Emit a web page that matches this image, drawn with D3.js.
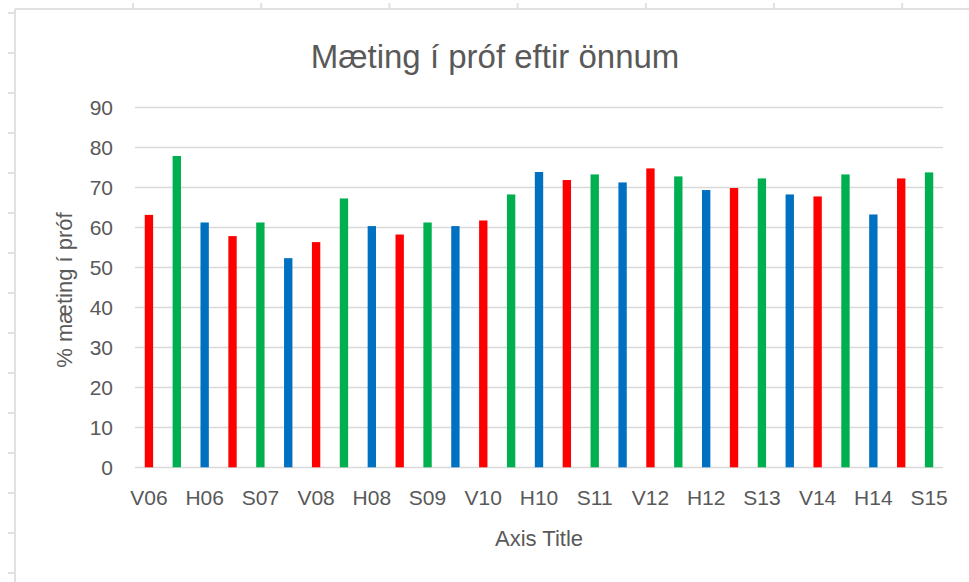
<!DOCTYPE html>
<html>
<head>
<meta charset="utf-8">
<script src="https://cdn.jsdelivr.net/npm/d3@7/dist/d3.min.js"></script>
<style>
  html, body { margin: 0; padding: 0; background: #fff; }
  svg { display: block; }
  text { font-family: "Liberation Sans", Arial, sans-serif; fill: #595959; }
</style>
</head>
<body>
<svg id="chart" width="969" height="582"></svg>
<script>
// ---- data ----
const categories = ["V06","S06","H06","V07","S07","H07","V08","S08","H08","V09","S09","H09",
  "V10","S10","H10","V11","S11","H11","V12","S12","H12","V13","S13","H13","V14","S14","H14","V15","S15"];
const values = [63.0, 77.7, 61.1, 57.7, 61.1, 52.2, 56.2, 67.1, 60.2, 58.1, 61.1, 60.2,
  61.6, 68.1, 73.7, 71.7, 73.1, 71.1, 74.6, 72.6, 69.2, 69.7, 72.1, 68.1, 67.6, 73.1, 63.1, 72.1, 73.6];
const yTicks = [0, 10, 20, 30, 40, 50, 60, 70, 80, 90];
const seasonColors = { V: "#FF0000", S: "#00B050", H: "#0070C0" };
const title = "Mæting í próf eftir önnum";
const yTitle = "% mæting í próf";
const xTitle = "Axis Title";

// ---- layout ----
const svg = d3.select("#chart");
const W = 969, H = 582;
const plot = { left: 135, right: 943, top: 106.7, bottom: 467.3 };

// spreadsheet frame behind chart
const frame = svg.append("g").attr("stroke", "#E1E1E1").attr("stroke-width", 2);
frame.append("line").attr("x1", 15).attr("x2", W).attr("y1", 9).attr("y2", 9);
frame.append("line").attr("x1", 15).attr("x2", 15).attr("y1", 9).attr("y2", H);
d3.range(133, W, 128.2).forEach(x => {
  frame.append("line").attr("x1", x).attr("x2", x).attr("y1", 3).attr("y2", 9);
});
d3.range(13, H, 40).forEach(y => {
  frame.append("line").attr("x1", 8).attr("x2", 15).attr("y1", y).attr("y2", y);
});

const x = d3.scaleBand().domain(categories).range([plot.left, plot.right]).paddingInner(0).paddingOuter(0);
const y = d3.scaleLinear().domain([0, 90]).range([plot.bottom, plot.top]);

// gridlines
svg.append("g").selectAll("line").data(yTicks).join("line")
  .attr("x1", plot.left).attr("x2", plot.right)
  .attr("y1", d => Math.round(y(d)) + 0.5).attr("y2", d => Math.round(y(d)) + 0.5)
  .attr("stroke", "#D9D9D9").attr("stroke-width", 1.5);

// y axis labels
const yAxis = d3.axisLeft(y).tickValues(yTicks).tickSize(0).tickPadding(0);
const ya = svg.append("g").attr("transform", `translate(${plot.left - 22},0)`).call(yAxis);
ya.select(".domain").remove();
ya.selectAll("text").attr("font-size", 21).attr("fill", "#595959")
  .style("font-family", "'Liberation Sans', Arial, sans-serif").attr("dy", "0.35em");

// bars
const barW = x.bandwidth() * 0.3;
svg.append("g").selectAll("rect").data(categories).join("rect")
  .attr("x", (d) => x(d) + x.bandwidth() / 2 - barW / 2)
  .attr("width", barW)
  .attr("y", (d, i) => y(values[i]))
  .attr("height", (d, i) => y(0) - y(values[i]))
  .attr("fill", d => seasonColors[d[0]]);

// x axis labels (every other category)
const xAxis = d3.axisBottom(x).tickValues(categories.filter((d, i) => i % 2 === 0)).tickSize(0).tickPadding(0);
const xa = svg.append("g").attr("transform", `translate(0,${plot.bottom})`).call(xAxis);
xa.select(".domain").remove();
xa.selectAll("text").attr("font-size", 21).attr("fill", "#595959")
  .style("font-family", "'Liberation Sans', Arial, sans-serif")
  .attr("y", 38).attr("dy", 0);

// titles
svg.append("text").attr("x", 495).attr("y", 68).attr("text-anchor", "middle")
  .attr("font-size", 33).text(title);
svg.append("text").attr("x", 539).attr("y", 546).attr("text-anchor", "middle")
  .attr("font-size", 22).text(xTitle);
svg.append("text").attr("transform", "translate(72,290) rotate(-90)").attr("text-anchor", "middle")
  .attr("font-size", 22).text(yTitle);
</script>
</body>
</html>
